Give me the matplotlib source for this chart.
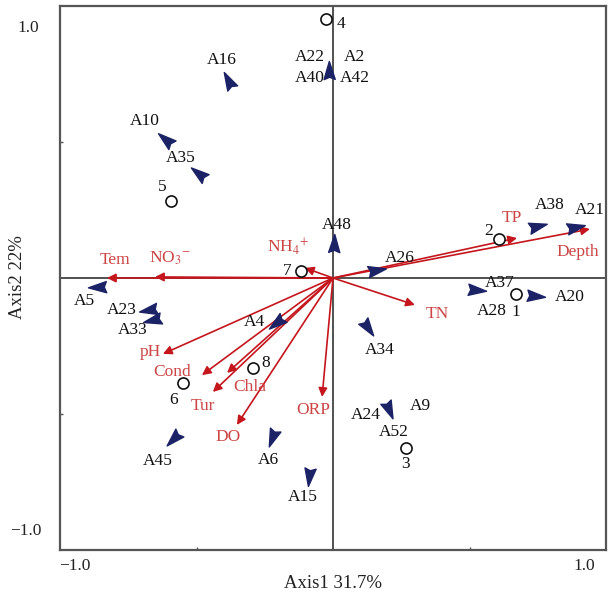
import numpy as np
import matplotlib
matplotlib.use("Agg")
import matplotlib.pyplot as plt
from matplotlib.markers import MarkerStyle
from matplotlib.path import Path
from matplotlib.transforms import Affine2D

plt.rcParams['font.family'] = ['Liberation Serif', 'DejaVu Serif']
plt.rcParams['mathtext.fontset'] = 'stix'

# species scores (arrowhead markers)
species = ['A16', 'A22', 'A40', 'A2', 'A42', 'A10', 'A35', 'A48', 'A5', 'A23', 'A33',
           'A4', 'A45', 'A6', 'A15', 'A34', 'A24', 'A9', 'A52', 'A26', 'A38', 'A21',
           'A37', 'A28', 'A20']
sp_x = [-0.385, -0.015, -0.015, -0.015, -0.015, -0.615, -0.495, 0.004, -0.864, -0.678, -0.663,
        -0.209, -0.586, -0.223, -0.088, 0.128, 0.205, 0.205, 0.205, 0.161, 0.751, 0.890,
        0.527, 0.527, 0.744]
sp_y = [0.728, 0.765, 0.765, 0.765, 0.765, 0.511, 0.386, 0.129, -0.033, -0.118, -0.154,
        -0.165, -0.592, -0.588, -0.732, -0.184, -0.485, -0.485, -0.485, 0.029, 0.191, 0.188,
        -0.044, -0.044, -0.066]

# sample sites (open circles)
sites = ['1', '2', '3', '4', '5', '6', '7', '8']
site_x = [0.670, 0.608, 0.267, -0.026, -0.593, -0.549, -0.117, -0.293]
site_y = [-0.059, 0.143, -0.625, 0.952, 0.283, -0.386, 0.026, -0.331]

# environmental variables (arrows)
env = ['Tem', 'NO$_3$$^{-}$', 'NH$_4$$^{+}$', 'pH', 'Cond', 'Chla', 'Tur', 'DO', 'ORP',
       'TN', 'TP', 'Depth']
env_x = [-0.828, -0.652, -0.103, -0.623, -0.480, -0.388, -0.440, -0.352, -0.040,
         0.300, 0.674, 0.941]
env_y = [0.0, 0.004, 0.037, -0.279, -0.357, -0.349, -0.419, -0.540, -0.437,
         -0.099, 0.147, 0.180]

# label offsets in pixels
sp_off = {'A16': (-6, 20), 'A22': (-19, 13), 'A40': (-19, -8), 'A2': (26, 13), 'A42': (26, -8),
          'A10': (-20, 18), 'A35': (-17, 15), 'A48': (3, 18), 'A5': (-13, -14),
          'A23': (-26, 0), 'A33': (-19, -10), 'A4': (-21, 1), 'A45': (-15, -22),
          'A6': (-4, -22), 'A15': (-6, -20), 'A34': (12, -22), 'A24': (-23, -5),
          'A9': (31, 4), 'A52': (5, -22), 'A26': (23, 12), 'A38': (12, 21), 'A21': (14, 17),
          'A37': (23, 7), 'A28': (15, -21), 'A20': (34, -1)}
site_off = {'1': (0, -18), '2': (-10, 8), '3': (0, -16), '4': (15, -5), '5': (-9, 14),
            '6': (-10, -17), '7': (-14, 0), '8': (13, 5)}
env_off = [(8, 18), (15, 19), (-17, 21), (-13, 2), (-30, 3), (23, -14), (-10, -14),
           (-9, -12), (-9, -13), (22, -9), (-5, 20), (-12, -23)]

red = '#c4161c'
red_txt = '#cc4444'
navy = '#1b2266'
fs = 12.5

fig = plt.figure(figsize=(6.10, 5.97), dpi=100)
ax = fig.add_axes([60/610, 47/597, 546/610, 544/597])
ax.set_xlim(-1, 1)
ax.set_ylim(-1, 1)
ax.axhline(0, color='#333333', lw=1.2, zorder=1)
ax.axvline(0, color='#333333', lw=1.2, zorder=1)
for s in ax.spines.values():
    s.set_color('#555555')
    s.set_linewidth(1.6)
ax.set_xticks([-0.5, 0.5])
ax.set_yticks([-0.5, 0.5])
ax.tick_params(direction='in', length=2, width=1, labelbottom=False, labelleft=False,
               colors='#555555')

# env arrows
for i, name in enumerate(env):
    ax.annotate('', xy=(env_x[i], env_y[i]), xytext=(0, 0),
                arrowprops=dict(arrowstyle='-|>', color=red, lw=1.2, mutation_scale=13,
                                shrinkA=0, shrinkB=0), zorder=3)
    ax.annotate(name, xy=(env_x[i], env_y[i]), xytext=env_off[i], textcoords='offset pixels',
                ha='center', va='center', color=red_txt, fontsize=fs, zorder=4)

# species arrowheads
head = Path([(1, 0), (-1, 0.62), (-0.75, 0), (-1, -0.62), (1, 0)],
            [Path.MOVETO, Path.LINETO, Path.LINETO, Path.LINETO, Path.CLOSEPOLY])
done = set()
for i, name in enumerate(species):
    key = (sp_x[i], sp_y[i])
    if key not in done:
        ang = np.arctan2(sp_y[i], sp_x[i])
        m = MarkerStyle(head, transform=Affine2D().rotate(ang))
        ax.plot(sp_x[i], sp_y[i], marker=m, ms=13, color=navy, mec=navy, ls='none', zorder=5)
        done.add(key)
    ax.annotate(name, xy=(sp_x[i], sp_y[i]), xytext=sp_off[name], textcoords='offset pixels',
                ha='center', va='center', color='#111111', fontsize=fs, zorder=6)

# sites
ax.plot(site_x, site_y, 'o', ms=8, mfc='white', mec='#111111', mew=1.2, ls='none', zorder=5)
for i, name in enumerate(sites):
    ax.annotate(name, xy=(site_x[i], site_y[i]), xytext=site_off[name],
                textcoords='offset pixels', ha='center', va='center', color='#111111',
                fontsize=fs, zorder=6)

# axis end labels
fig.text(28/610, 1 - 28/597, '1.0', ha='center', va='center', fontsize=fs, color='#222222')
fig.text(26/610, 1 - 531/597, '\u22121.0', ha='center', va='center', fontsize=fs, color='#222222')
fig.text(75/610, 1 - 566/597, '\u22121.0', ha='center', va='center', fontsize=fs, color='#222222')
fig.text(584/610, 1 - 566/597, '1.0', ha='center', va='center', fontsize=fs, color='#222222')
fig.text(333/610, 1 - 583/597, 'Axis1 31.7%', ha='center', va='center', fontsize=13.5,
         color='#222222')
fig.text(17/610, 1 - 277/597, 'Axis2 22%', ha='center', va='center', rotation=90,
         fontsize=13.5, color='#222222')

fig.savefig('out.png', dpi=100)
